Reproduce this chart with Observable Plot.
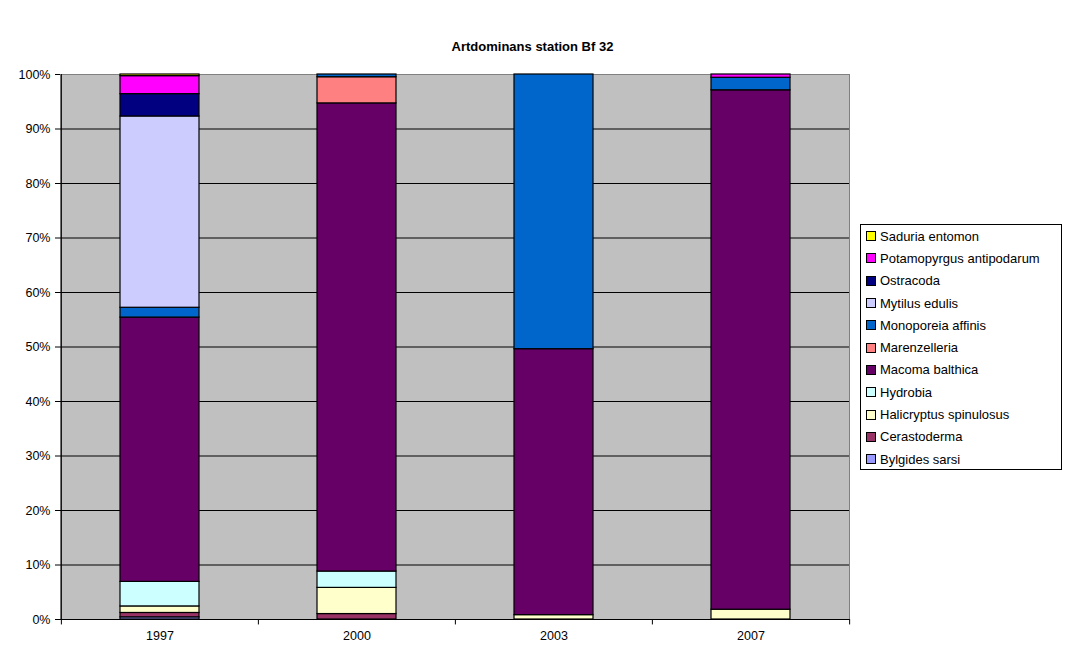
<!DOCTYPE html>
<html>
<head>
<meta charset="utf-8">
<script src="https://cdn.jsdelivr.net/npm/d3@7"></script>
<script src="https://cdn.jsdelivr.net/npm/@observablehq/plot@0.6"></script>
<style>
  body { margin: 0; background: #fff; font-family: "Liberation Sans", Arial, sans-serif; }
  #wrap { position: relative; width: 1065px; height: 646px; }
  #title { height: 56px; width: 1065px; text-align: center; font-weight: bold; font-size: 13px; line-height: 13px; box-sizing: border-box; padding-top: 40px; }
  #legend { position: absolute; left: 860px; top: 224px; width: 202px; height: 246px; border: 1px solid #000; box-sizing: border-box; background: #fff; font-size: 13px; padding-top: 0px; }
  .item { height: 22.3px; display: flex; align-items: center; padding-left: 5px; }
  .sw { width: 8px; height: 8px; border: 1px solid #000; margin-right: 4px; flex: none; }
</style>
</head>
<body>
<div id="wrap">
  <div id="title">Artdominans station Bf 32</div>
  <div id="chart"></div>
  <div id="legend"></div>
</div>
<script>
const years = ["1997", "2000", "2003", "2007"];
const species = ["Bylgides sarsi", "Cerastoderma", "Halicryptus spinulosus", "Hydrobia", "Macoma balthica", "Marenzelleria", "Monoporeia affinis", "Mytilus edulis", "Ostracoda", "Potamopyrgus antipodarum", "Saduria entomon"];
const colors = ["#9999FF", "#993366", "#FFFFCC", "#CCFFFF", "#660066", "#FF8080", "#0066CC", "#CCCCFF", "#000080", "#FF00FF", "#FFFF00"];
// percentage share per species, one value per year (1997, 2000, 2003, 2007)
const bylgides      = [0.4, 0, 0, 0];
const cerastoderma  = [0.8, 1.0, 0, 0];
const halicryptus   = [1.2, 4.8, 0.8, 1.8];
const hydrobia      = [4.5, 3.0, 0, 0];
const macoma        = [48.5, 85.9, 48.8, 95.3];
const marenzelleria = [0, 4.8, 0, 0];
const monoporeia    = [1.8, 0.5, 50.4, 2.3];
const mytilus       = [35.1, 0, 0, 0];
const ostracoda     = [4.1, 0, 0, 0];
const potamopyrgus  = [3.3, 0, 0, 0.6];
const saduria       = [0.3, 0, 0, 0];
const yTicks = [0, 10, 20, 30, 40, 50, 60, 70, 80, 90, 100];

const series = [bylgides, cerastoderma, halicryptus, hydrobia, macoma, marenzelleria, monoporeia, mytilus, ostracoda, potamopyrgus, saduria];
const data = [];
species.forEach((s, i) => years.forEach((y, j) => { if (series[i][j] > 0) data.push({year: y, species: s, value: series[i][j]}); }));

const width = 1065, height = 590;
const mL = 60, mR = 216, mT = 18, mB = 27;
const step = (width - mL - mR) / years.length;

const chart = Plot.plot({
  width, height,
  marginLeft: mL, marginRight: mR, marginTop: mT, marginBottom: mB,
  style: {fontFamily: "Liberation Sans, Arial, sans-serif", fontSize: "12.5px", color: "#000", background: "transparent", overflow: "visible"},
  x: {domain: years, paddingInner: 0.6, paddingOuter: 0.3, label: null, tickSize: 0, tickPadding: 12},
  y: {domain: [0, 100], ticks: yTicks, tickFormat: d => d + "%", label: null, tickSize: 5, tickPadding: 5},
  color: {domain: species, range: colors},
  marks: [
    Plot.frame({fill: "#C0C0C0", stroke: "#808080"}),
    Plot.ruleY(yTicks.filter(d => d > 0 && d < 100), {stroke: "#000", strokeWidth: 1}),
    Plot.barY(data, Plot.stackY({order: null}, {x: "year", y: "value", fill: "species", stroke: "#000", strokeWidth: 1.2})),
    Plot.ruleX(years, {x: d => d, dx: -step / 2, y1: 0, y2: -1, stroke: "#000", clip: false}),
    Plot.ruleX([years[years.length - 1]], {x: d => d, dx: step / 2, y1: 0, y2: -1, stroke: "#000", clip: false}),
    Plot.ruleY([0], {stroke: "#000"}),
    Plot.ruleX([years[0]], {x: d => d, dx: -step / 2, y1: 0, y2: 100, stroke: "#000"})
  ]
});
document.getElementById("chart").appendChild(chart);

const legend = document.getElementById("legend");
for (let i = species.length - 1; i >= 0; i--) {
  const it = document.createElement("div");
  it.className = "item";
  const sw = document.createElement("span");
  sw.className = "sw";
  sw.style.background = colors[i];
  const tx = document.createElement("span");
  tx.textContent = species[i];
  it.appendChild(sw); it.appendChild(tx);
  legend.appendChild(it);
}
</script>
</body>
</html>
